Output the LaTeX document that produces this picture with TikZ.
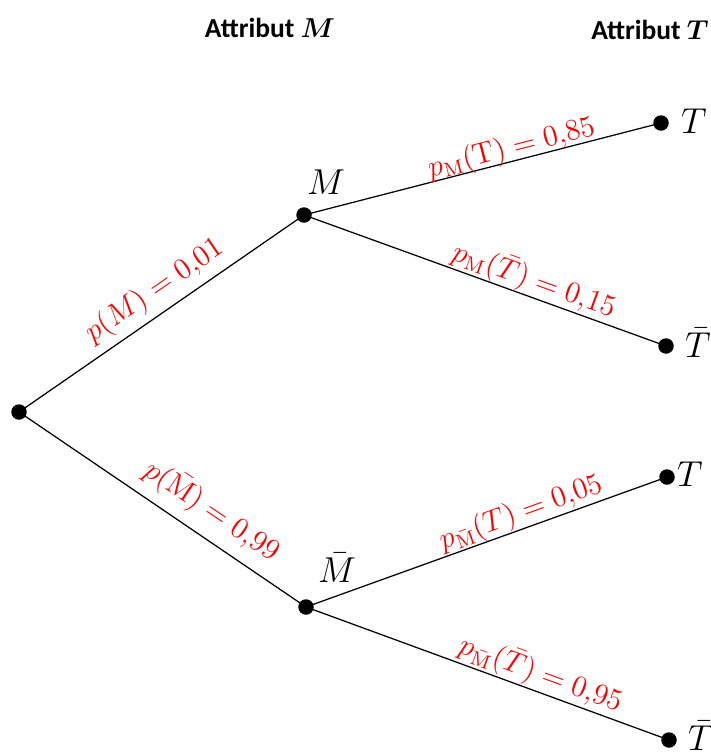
\documentclass[tikz,border=0pt]{standalone}
\usepackage{amsmath}
\usepackage{bm}
\usepackage{fontspec}
\newfontfamily\headfont{Carlito}
\tikzset{
  dot/.style={circle, fill=black, inner sep=0pt, minimum size=6.2pt},
  branch/.style={draw=black, line width=0.5pt},
  prob/.style={text=red, sloped, font=\fontsize{12}{14}\selectfont, inner sep=0pt},
  state/.style={font=\fontsize{14.4}{17}\selectfont, inner sep=0pt},
  header/.style={font=\headfont\bfseries\fontsize{11}{13}\selectfont, inner sep=0pt}
}
\begin{document}
\begin{tikzpicture}[x=0.4pt, y=-0.4pt]
  \useasboundingbox (0,0) rectangle (711,754);

  % column headings
  \node[header] (hM) at (270,28) {Attribut $\bm{M}$};
  \node[header] (hT) at (650,30) {Attribut $\bm{T}$};

  % tree nodes
  \node[dot] (r)  at (19,412) {};
  \node[dot] (m)  at (304,215) {};
  \node[dot] (mb) at (306,607) {};
  \node[dot] (t1) at (661,123) {};
  \node[dot] (u1) at (666,346) {};
  \node[dot] (t2) at (667,477) {};
  \node[dot] (u2) at (669,740) {};

  % node labels
  \node[state] (lm)  at (326,182) {$M$};
  \node[state] (lmb) at (337,568) {$\bar{M}$};
  \node[state] (lt1) at (694,121) {$T$};
  \node[state] (lu1) at (698,343) {$\bar{T}$};
  \node[state] (lt2) at (690,474) {$T$};
  \node[state] (lu2) at (701,736) {$\bar{T}$};

  % branches with probabilities
  \draw[branch] (r.center) -- node[prob, pos=0.52, above=2.8pt] {$p(M) = 0{,}01$} (m.center);
  \draw[branch] (r.center) -- node[prob, pos=0.62, above=4pt] {$p(\bar{\mathrm{M}}) = 0{,}99$} (mb.center);
  \draw[branch] (m.center) -- node[prob, pos=0.59, above=-1.2pt] {$p_{\mathrm{M}}(\mathrm{T}) = 0{,}85$} (t1.center);
  \draw[branch] (m.center) -- node[prob, pos=0.62, above=0pt] {$p_{\mathrm{M}}(\bar{T}) = 0{,}15$} (u1.center);
  \draw[branch] (mb.center) -- node[prob, pos=0.61, above=0pt] {$p_{\bar{\mathrm{M}}}(T) = 0{,}05$} (t2.center);
  \draw[branch] (mb.center) -- node[prob, pos=0.63, above=0.4pt] {$p_{\bar{\mathrm{M}}}(\bar{T}) = 0{,}95$} (u2.center);
\end{tikzpicture}
\end{document}
